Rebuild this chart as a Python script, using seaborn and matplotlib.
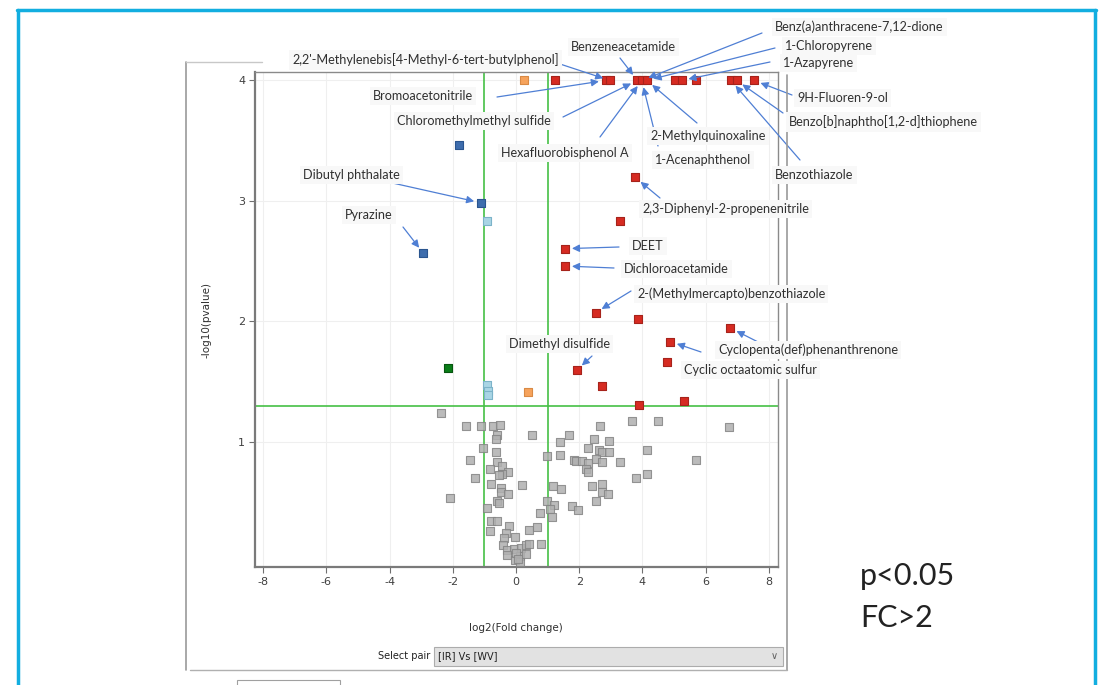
import matplotlib
matplotlib.use("Agg")
import matplotlib.pyplot as plt
from matplotlib.patches import Rectangle
from matplotlib.lines import Line2D
import seaborn as sns
import pandas as pd

# --- data (log2 fold change, -log10 p) ---
gray_x = [-2.36, -1.59, -1.11, -0.72, -0.51, -0.59, -0.63, 0.49, -1.04, -0.64,
          -1.45, -0.59, -0.45, -0.81, -0.24, -0.45, -0.54, -1.31, -0.79, 0.18,
          -0.47, -0.47, -0.24, -2.10, -0.59, -0.53, -0.93, 0.77, 0.98, 1.20,
          1.09, 1.15, -0.80, -0.60, -0.82, -0.22, -0.31, -0.02, 0.40, 0.65,
          -0.38, -0.42, 0.78, -0.27, -0.06, 0.15, 0.32, 0.40, -0.29, 0.13,
          0.32, -0.03, 0.11, 0.00, 0.06, 0.97, 1.38, 1.69, 1.40, 2.66,
          2.48, 2.94, 2.29, 2.63, 2.71, 2.94, 1.83, 1.90, 2.08, 2.28,
          2.52, 2.71, 2.20, 2.29, 1.18, 1.41, 2.41, 2.71, 2.71, 2.92,
          2.52, 1.76, 1.95, 3.30, 3.68, 4.50, 4.14, 5.70, 3.80, 4.16, 6.74]
gray_y = [1.24, 1.13, 1.13, 1.13, 1.14, 1.06, 1.02, 1.06, 0.95, 0.915,
          0.85, 0.83, 0.80, 0.77, 0.745, 0.735, 0.72, 0.70, 0.65, 0.64,
          0.62, 0.585, 0.57, 0.53, 0.51, 0.49, 0.45, 0.41, 0.51, 0.475,
          0.44, 0.375, 0.34, 0.34, 0.26, 0.30, 0.245, 0.21, 0.265, 0.295,
          0.20, 0.14, 0.15, 0.10, 0.11, 0.115, 0.14, 0.155, 0.06, 0.05,
          0.07, 0.015, 0.0, 0.08, 0.03, 0.88, 1.00, 1.06, 0.89, 1.13,
          1.02, 1.01, 0.945, 0.93, 0.915, 0.915, 0.85, 0.84, 0.84, 0.82,
          0.855, 0.83, 0.775, 0.745, 0.63, 0.61, 0.63, 0.645, 0.58, 0.565,
          0.51, 0.465, 0.43, 0.83, 1.175, 1.175, 0.935, 0.85, 0.695, 0.735, 1.12]

red_x = [1.23, 2.84, 2.97, 3.84, 3.98, 4.14, 5.03, 5.24, 5.69, 6.80, 6.98, 7.53,
         3.77, 3.30, 1.55, 1.55, 2.52, 3.87, 6.78, 4.88, 4.79, 1.92, 2.71, 5.33, 3.90]
red_y = [4.0, 4.0, 4.0, 4.0, 4.0, 4.0, 4.0, 4.0, 4.0, 4.0, 4.0, 4.0,
         3.195, 2.835, 2.603, 2.459, 2.072, 2.02, 1.945, 1.832, 1.661, 1.594, 1.464, 1.342, 1.309]

darkblue_x = [-1.79, -1.11, -2.93]
darkblue_y = [3.463, 2.984, 2.565]
lightblue_x = [-0.91, -0.91, -0.88, -0.88]
lightblue_y = [2.835, 1.467, 1.423, 1.384]
orange_x = [0.25, 0.37]
orange_y = [4.0, 1.412]
green_x = [-2.16]
green_y = [1.616]

# compound labels: name, target (log2FC, -log10p)
label_names = ["Benz(a)anthracene-7,12-dione", "1-Chloropyrene", "1-Azapyrene",
               "Benzeneacetamide", "2,2'-Methylenebis[4-Methyl-6-tert-butylphenol]",
               "Bromoacetonitrile", "Chloromethylmethyl sulfide", "Hexafluorobisphenol A",
               "2-Methylquinoxaline", "1-Acenaphthenol", "9H-Fluoren-9-ol",
               "Benzo[b]naphtho[1,2-d]thiophene", "Benzothiazole",
               "2,3-Diphenyl-2-propenenitrile", "DEET", "Dichloroacetamide",
               "2-(Methylmercapto)benzothiazole", "Cyclopenta(def)phenanthrenone",
               "Cyclic octaatomic sulfur", "Dimethyl disulfide", "Dibutyl phthalate", "Pyrazine"]
label_fc = [3.98, 4.14, 5.24, 3.84, 2.97, 2.84, 3.84, 3.98, 4.14, 3.98, 7.53, 6.98, 6.80,
            3.77, 1.55, 1.55, 2.52, 6.78, 4.88, 1.92, -1.11, -2.93]
label_p = [4.0, 4.0, 4.0, 4.0, 4.0, 4.0, 4.0, 4.0, 4.0, 4.0, 4.0, 4.0, 4.0,
           3.195, 2.603, 2.459, 2.072, 1.945, 1.832, 1.594, 2.984, 2.565]

# layout (screen pixels): label left/center, arrow tail
label_pos = [(775, 27), (785, 46), (783, 63), (571, 47), (292, 60), (373, 96), (397, 121),
             (501, 153), (650, 136), (655, 160), (797, 98), (789, 122), (775, 175),
             (642, 209), (632, 246), (624, 269), (637, 294), (718, 350), (684, 370),
             (509, 344), (303, 175), (345, 215)]
arrow_tail = [(762, 33), (775, 48), (770, 62), (620, 58), (560, 64), (497, 97), (563, 117),
              (600, 137), (697, 123), (658, 146), (792, 95), (783, 113), (800, 160),
              (660, 198), (619, 247), (614, 268), (631, 291), (762, 344), (701, 352),
              (592, 356), (388, 182), (403, 227)]

W, H = 1107, 685


def fx(px):
    return px / W


def fy(py):
    return 1 - py / H


sns.set_style("white")
plt.rcParams["font.family"] = ["Lato", "DejaVu Sans"]
plt.rcParams["axes.unicode_minus"] = False

fig = plt.figure(figsize=(W / 100, H / 100), dpi=100)
fig.patch.set_facecolor("white")

# window chrome
fig.add_artist(Line2D([fx(186), fx(186)], [fy(62), fy(670)], color="#9a9a9a", lw=1.2))
fig.add_artist(Line2D([fx(186), fx(262)], [fy(62), fy(62)], color="#c8c8c8", lw=1.0))
fig.add_artist(Line2D([fx(787), fx(787)], [fy(75), fy(670)], color="#9a9a9a", lw=1.2))
fig.add_artist(Line2D([fx(190), fx(787)], [fy(670), fy(670)], color="#b0b0b0", lw=1.0))
fig.add_artist(Rectangle((fx(237), fy(692)), fx(103), 12 / H, transform=fig.transFigure,
                         facecolor="white", edgecolor="#a0a0a0", lw=0.8))
# blue slide frame
fig.add_artist(Line2D([fx(18), fx(18)], [fy(10), 0], color="#12aee0", lw=2.5))
fig.add_artist(Line2D([fx(1095), fx(1095)], [fy(10), 0], color="#12aee0", lw=2.5))
fig.add_artist(Line2D([fx(17), fx(1096)], [fy(10), fy(10)], color="#12aee0", lw=2.5))

ax = fig.add_axes([fx(255), fy(567), fx(778 - 255), (567 - 72) / H])
ax.set_xlim(-8.26, 8.29)
ax.set_ylim(-0.04, 4.07)

ax.axvline(-1, color="#46c046", lw=1.2, zorder=1)
ax.axvline(1, color="#46c046", lw=1.2, zorder=1)
ax.axhline(1.30, color="#46c046", lw=1.2, zorder=1)

groups = [
    (gray_x, gray_y, "#b0b0b0", "#858585", 0.85),
    (red_x, red_y, "#d62b22", "#a6231b", 1.0),
    (darkblue_x, darkblue_y, "#3e6dad", "#2a558f", 1.0),
    (lightblue_x, lightblue_y, "#a9d5e5", "#7cb3c9", 1.0),
    (orange_x, orange_y, "#f6a35c", "#d98a45", 1.0),
    (green_x, green_y, "#0a7d18", "#06550f", 1.0),
]
for gx, gy, fc, ec, a in groups:
    df = pd.DataFrame({"lfc": gx, "logp": gy})
    sns.scatterplot(data=df, x="lfc", y="logp", marker="s", s=36, color=fc,
                    edgecolor=ec, linewidth=0.8, alpha=a, ax=ax, zorder=3)

ax.set_xticks(range(-8, 9, 2))
ax.set_yticks([1, 2, 3, 4])
ax.grid(True, color="#efefef", lw=0.8)
ax.set_axisbelow(True)
ax.tick_params(axis="both", which="both", length=4, width=0.8, color="#707070",
               labelsize=8, labelcolor="#404040", direction="out", pad=3)
ax.tick_params(left=True, bottom=True)
for lab in ax.get_xticklabels() + ax.get_yticklabels():
    lab.set_family("DejaVu Sans")
for side in ["left", "bottom"]:
    ax.spines[side].set_color("#7a7a7a")
    ax.spines[side].set_linewidth(1.6)
for side in ["top", "right"]:
    ax.spines[side].set_color("#8a8a8a")
    ax.spines[side].set_linewidth(1.0)
ax.set_xlabel("")
ax.set_ylabel("")

fig.text(fx(207), fy(320), "-log10(pvalue)", rotation=90, ha="center", va="center",
         fontsize=7.5, color="#303030", family="DejaVu Sans")
fig.text(fx(516), fy(628), "log2(Fold change)", ha="center", va="center",
         fontsize=7.5, color="#303030", family="DejaVu Sans")

# pair selector
fig.text(fx(404), fy(656), "Select pair", ha="center", va="center", fontsize=7,
         color="#202020", family="DejaVu Sans")
fig.add_artist(Rectangle((fx(434), fy(666)), fx(783 - 434), 19 / H, transform=fig.transFigure,
                         facecolor="#e2e2e2", edgecolor="#acacac", lw=0.8))
fig.text(fx(438), fy(656), "[IR] Vs [WV]", ha="left", va="center", fontsize=7,
         color="#202020", family="DejaVu Sans")
fig.text(fx(774), fy(656), "\u2228", ha="center", va="center", fontsize=7, color="#606060",
         family="DejaVu Sans")

# labels with arrows
for name, tx, ty, (lx, ly), (ax_, ay_) in zip(label_names, label_fc, label_p, label_pos, arrow_tail):
    ax.annotate("", xy=(tx, ty), xycoords="data", xytext=(fx(ax_), fy(ay_)),
                textcoords="figure fraction", annotation_clip=False,
                arrowprops=dict(arrowstyle="-|>", color="#4f7fd4", lw=0.9,
                                mutation_scale=11, shrinkA=0, shrinkB=5))
    fig.text(fx(lx), fy(ly), name, ha="left", va="center", fontsize=9.1, color="#303030",
             bbox=dict(boxstyle="square,pad=0.25", facecolor="#f8f8f8", edgecolor="none"))

fig.text(fx(860), fy(576), "p<0.05", ha="left", va="center", fontsize=22, color="#222222")
fig.text(fx(860), fy(618), "FC>2", ha="left", va="center", fontsize=22, color="#222222")

fig.savefig("out.png", dpi=100)
